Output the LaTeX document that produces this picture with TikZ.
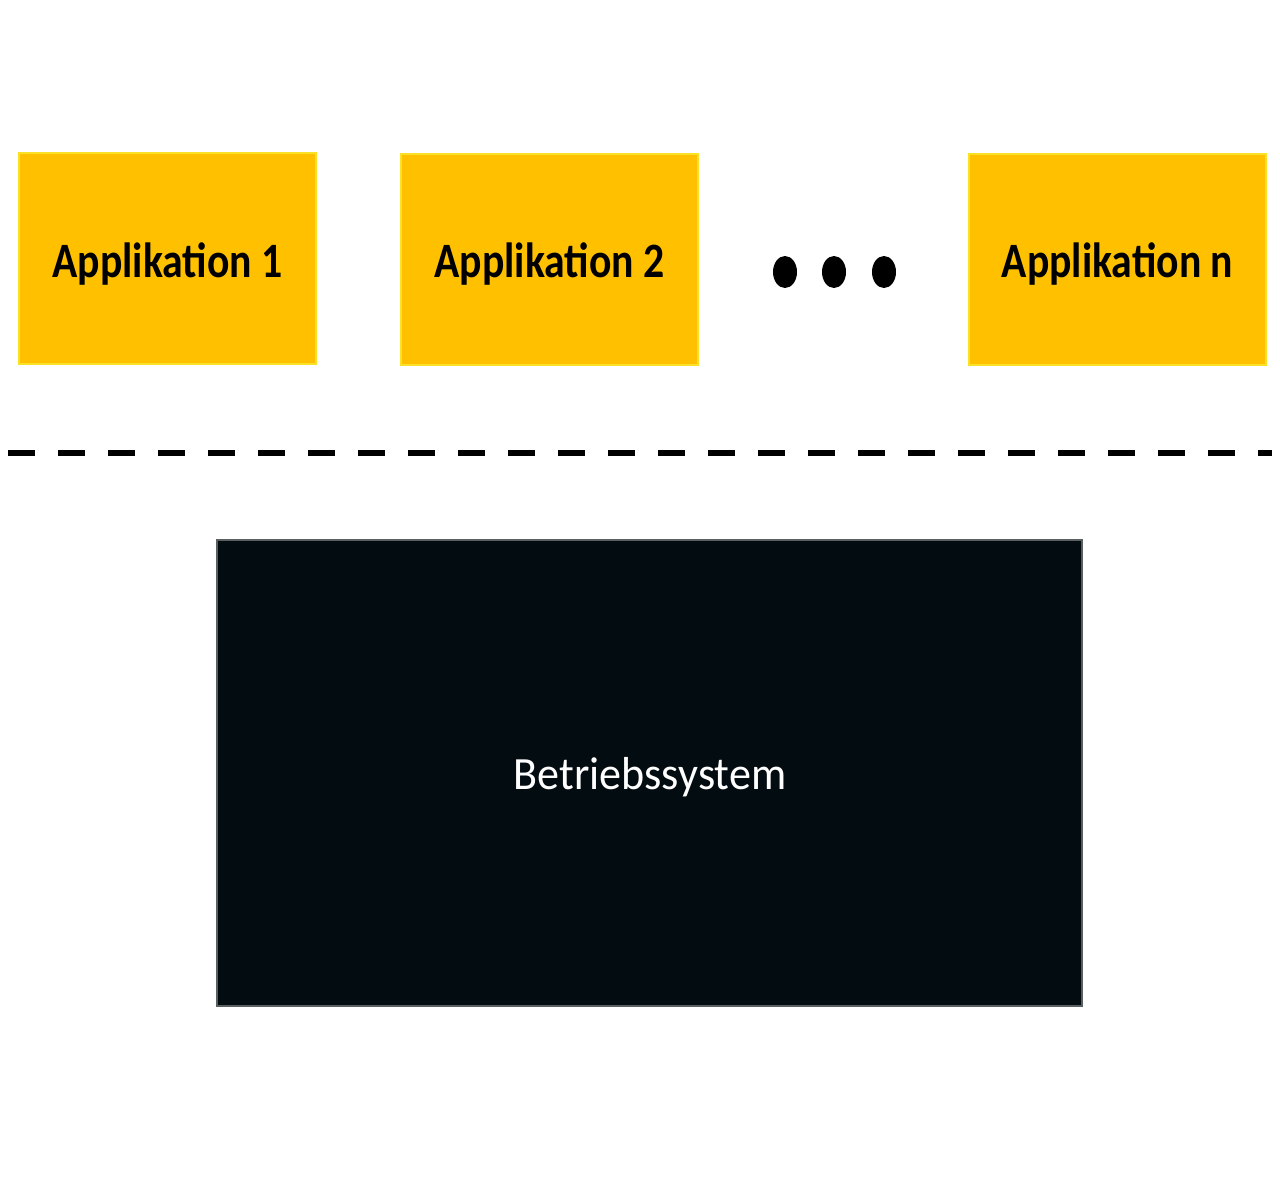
\documentclass[tikz,border=0pt]{standalone}
\usepackage{fontspec}
\setmainfont{Carlito}
\usetikzlibrary{shapes.geometric}
\definecolor{appgold}{RGB}{255,192,0}
\definecolor{appedge}{RGB}{250,225,40}
\definecolor{osblack}{RGB}{3,12,16}
\definecolor{osedge}{RGB}{90,95,95}
\tikzset{
  appbox/.style={rectangle, fill=appgold, draw=appedge, line width=2pt, minimum width=297pt, minimum height=210pt, inner sep=0pt},
  apptext/.style={inner sep=0pt, font=\fontsize{43}{43}\selectfont\bfseries, text=black, xscale=0.97, yscale=1.15, transform shape},
  osbox/.style={rectangle, fill=osblack, draw=osedge, line width=1.5pt, minimum width=865pt, minimum height=466pt, inner sep=0pt},
  ostext/.style={inner sep=0pt, font=\fontsize{42}{42}\selectfont, text=white, xscale=1.05, yscale=1.1, transform shape},
  dotmark/.style={ellipse, fill=black, minimum width=24pt, minimum height=32pt, inner sep=0pt},
  sepline/.style={line width=6pt, dash pattern=on 27pt off 23pt}
}
\begin{document}
\begin{tikzpicture}[x=1pt,y=-1pt]
\useasboundingbox (0,0) rectangle (1280,1190);
\node[appbox] (a1) at (167.5,258.5) {};
\node[appbox] (a2) at (549.5,259.5) {};
\node[appbox] (an) at (1117.5,259.5) {};
\node[apptext] (a1t) at (167.5,264) {Applikation 1};
\node[apptext] (a2t) at (549.5,264) {Applikation 2};
\node[apptext] (ant) at (1117.5,264) {Applikation n};
\node[dotmark] (d1) at (785,272) {};
\node[dotmark] (d2) at (834,272) {};
\node[dotmark] (d3) at (884,272) {};
\coordinate (sl) at (8,453);
\coordinate (sr) at (1272,453);
\draw[sepline] (sl) -- (sr);
\node[osbox] (os) at (649.5,773) {};
\node[ostext] (ost) at (650,777) {Betriebssystem};
\end{tikzpicture}
\end{document}
